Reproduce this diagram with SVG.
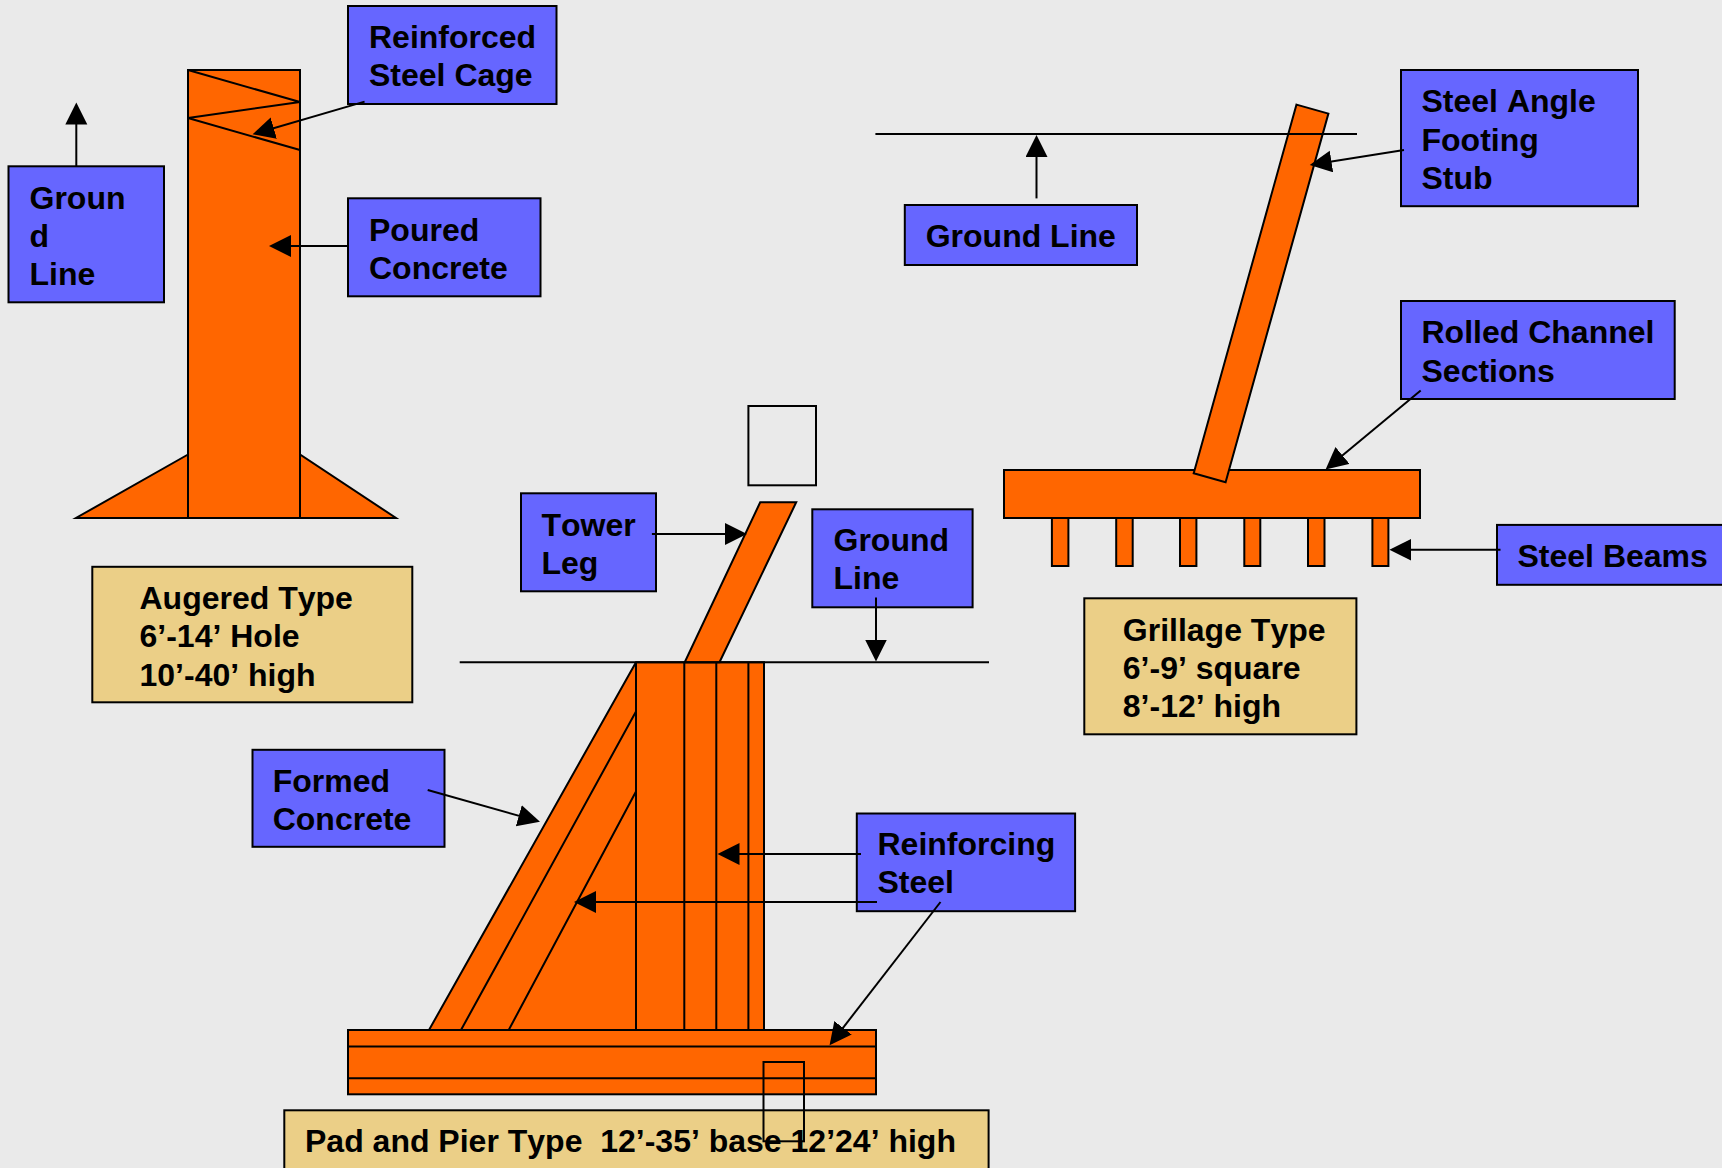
<svg xmlns="http://www.w3.org/2000/svg" width="1722" height="1168" viewBox="0 0 1722 1168">
<style>
text{font-family:"Liberation Sans",Arial,sans-serif;font-weight:bold;font-size:32px;fill:#000;white-space:pre;font-kerning:none}
.b{fill:#6666FF;stroke:#000;stroke-width:2}
.y{fill:#EBCF87;stroke:#000;stroke-width:2}
.o{fill:#FF6600;stroke:#000;stroke-width:2}
.e{fill:none;stroke:#000;stroke-width:2}
.c line{stroke:#000;stroke-width:2;marker-end:url(#a)}
.p{stroke:#000;stroke-width:2;fill:none}
</style>
<defs><marker id="a" markerUnits="userSpaceOnUse" markerWidth="24" markerHeight="24" refX="19" refY="11" orient="auto"><path d="M0 0L22 11L0 22Z" fill="#000"/></marker></defs>
<rect width="1722" height="1168" fill="#EAEAEA"/>

<g id="augered-footing">
<path class="o" d="M188 454.500L76 518H396L300 454.500Z"/>
<rect class="o" x="188" y="70" width="112" height="448"/>
<path class="e" d="M188 70L300 102L188 118L300 150"/>
</g>
<g id="pad-pier-footing">
<path class="o" d="M636 662.300H764V1030H429Z"/>
<path class="e" d="M636 711.500L461 1030M636 791.500L508.700 1030M636 662.300V1030M684.300 662.300V1030M716.300 662.300V1030M748.400 662.300V1030"/>
<rect class="o" x="348" y="1030" width="528" height="64.300"/>
<path class="e" d="M348 1046.500H876M348 1078.300H876"/>
<path class="o" d="M760.200 502.300H796.200L719.500 662.300H684.700Z"/>
<rect class="e" x="748.400" y="406" width="67.600" height="79.300"/>
</g>
<g id="grillage-footing">
<rect class="o" x="1004" y="470" width="416" height="48"/>
<rect class="o" x="1051.900" y="518" width="16.500" height="48"/>
<rect class="o" x="1116.200" y="518" width="16.500" height="48"/>
<rect class="o" x="1180" y="518" width="16.400" height="48"/>
<rect class="o" x="1244.300" y="518" width="16" height="48"/>
<rect class="o" x="1308" y="518" width="16.500" height="48"/>
<rect class="o" x="1372.400" y="518" width="16" height="48"/>
<path class="o" d="M1296.500 104.600L1328.400 113.600L1225.600 482.200L1193.700 473.300Z"/>
</g>

<g id="ground-lines">
<line class="p" x1="459.700" y1="662.300" x2="989" y2="662.300"/>
<line class="p" x1="875.400" y1="134" x2="1357" y2="134"/>
</g>

<g id="label-reinforced-steel-cage"><rect class="b" x="348" y="6" width="208.500" height="98"/><text x="369" y="48">Reinforced</text><text x="369" y="86">Steel Cage</text></g>
<g id="label-ground-line-1"><rect class="b" x="8.500" y="166.300" width="155.500" height="136"/><text x="29.500" y="208.500">Groun</text><text x="29.500" y="246.800">d</text><text x="29.500" y="285">Line</text></g>
<g id="label-poured-concrete"><rect class="b" x="348" y="198.300" width="192.500" height="98"/><text x="369" y="240.500">Poured</text><text x="369" y="278.500">Concrete</text></g>
<g id="label-augered-type"><rect class="y" x="92.300" y="566.800" width="320" height="135.500"/><text x="139.500" y="608.800">Augered Type</text><text x="139.500" y="646.800">6’-14’ Hole</text><text x="139.500" y="685.600">10’-40’ high</text></g>
<g id="label-tower-leg"><rect class="b" x="521" y="493.300" width="135" height="98"/><text x="541.500" y="535.500">Tower</text><text x="541.500" y="573.500">Leg</text></g>
<g id="label-ground-line-2"><rect class="b" x="812.300" y="509.300" width="160.300" height="98"/><text x="833.500" y="551.200">Ground</text><text x="833.500" y="589.200">Line</text></g>
<g id="label-formed-concrete"><rect class="b" x="252.500" y="749.800" width="192" height="97"/><text x="272.700" y="791.800">Formed</text><text x="272.700" y="829.800">Concrete</text></g>
<g id="label-reinforcing-steel"><rect class="b" x="856.800" y="813.500" width="218.300" height="97.700"/><text x="877.500" y="855.300">Reinforcing</text><text x="877.500" y="893.300">Steel</text></g>
<g id="label-pad-pier-type"><rect class="y" x="284.300" y="1110.300" width="704.300" height="70"/><text x="305" y="1152">Pad and Pier Type  12’-35’ base 12’24’ high</text></g>
<g id="detail-box"><rect class="e" x="763.500" y="1062" width="40.500" height="79.300"/></g>
<g id="label-ground-line-3"><rect class="b" x="904.800" y="205" width="232.200" height="60"/><text x="925.700" y="247.300">Ground Line</text></g>
<g id="label-steel-angle"><rect class="b" x="1401" y="70" width="237" height="136.200"/><text x="1421.500" y="112.300">Steel Angle</text><text x="1421.500" y="150.500">Footing</text><text x="1421.500" y="189">Stub</text></g>
<g id="label-rolled-channel"><rect class="b" x="1401" y="301" width="273.700" height="98"/><text x="1421.500" y="343.300">Rolled Channel</text><text x="1421.500" y="381.500">Sections</text></g>
<g id="label-steel-beams"><rect class="b" x="1497" y="524.900" width="240" height="59.900"/><text x="1517.500" y="567.300">Steel Beams</text></g>
<g id="label-grillage-type"><rect class="y" x="1084.300" y="598.300" width="272.100" height="136"/><text x="1122.800" y="640.500">Grillage Type</text><text x="1122.800" y="678.500">6’-9’ square</text><text x="1122.800" y="717">8’-12’ high</text></g>

<g id="connectors" class="c">
<line x1="76.300" y1="166" x2="76.300" y2="105.600"/>
<line x1="364.600" y1="101.600" x2="255.500" y2="133.500"/>
<line x1="348" y1="246" x2="272" y2="246"/>
<line x1="427.700" y1="790" x2="537.100" y2="820.900"/>
<line x1="861" y1="854" x2="720.500" y2="854"/>
<line x1="877" y1="902" x2="577" y2="902"/>
<line x1="940.500" y1="902" x2="831.400" y2="1042.800"/>
<line x1="651.900" y1="534" x2="744" y2="534"/>
<line x1="876" y1="597.500" x2="876" y2="658.500"/>
<line x1="1036.500" y1="198.400" x2="1036.500" y2="138"/>
<line x1="1404" y1="150" x2="1312.700" y2="164.500"/>
<line x1="1420.700" y1="390.400" x2="1327.900" y2="467.500"/>
<line x1="1500.500" y1="549.800" x2="1392.400" y2="549.800"/>
</g>
</svg>
